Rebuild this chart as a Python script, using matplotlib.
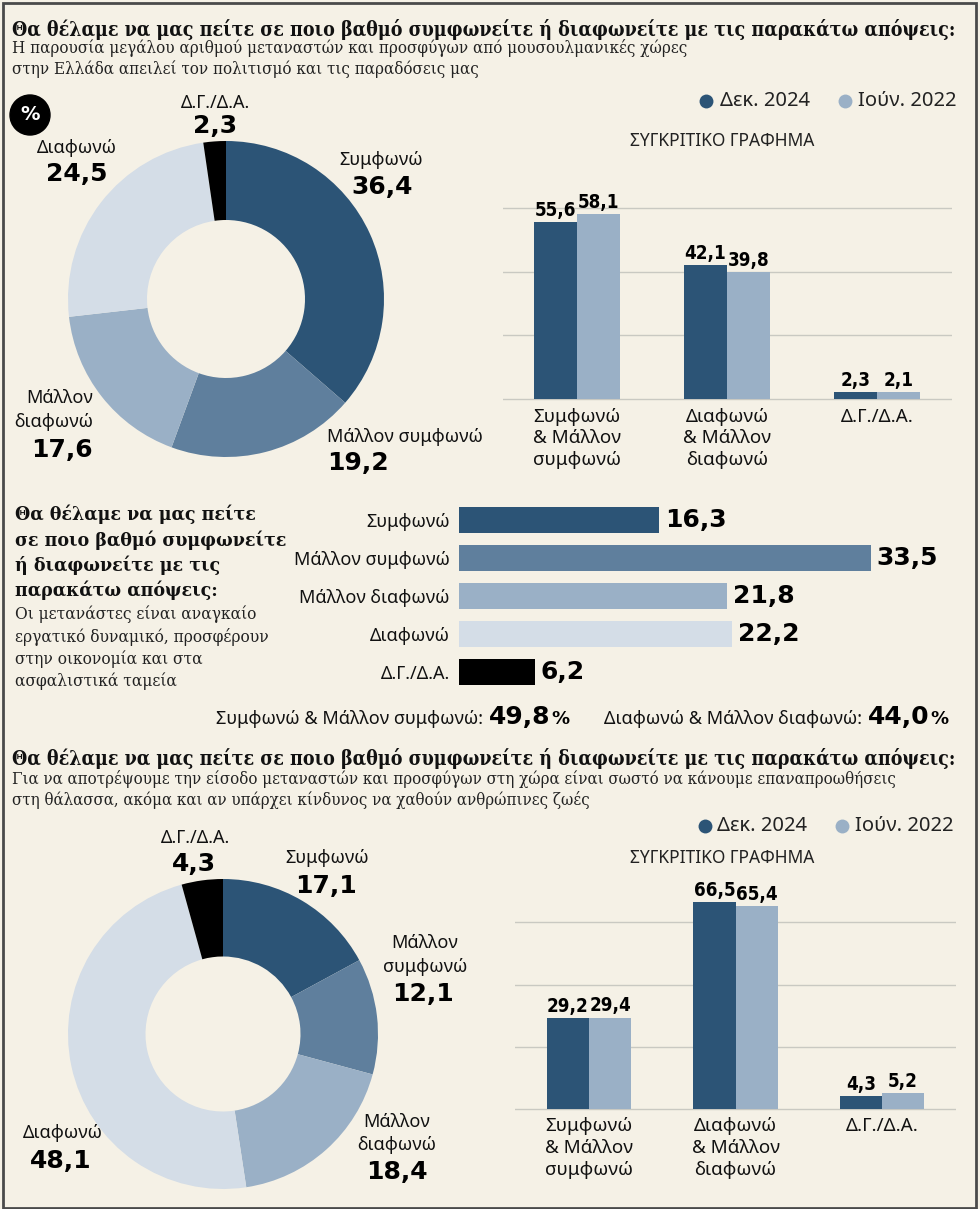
import matplotlib
matplotlib.use('Agg')
import matplotlib.pyplot as plt
from matplotlib.patches import Rectangle, Circle
import numpy as np

# ---------------- data ----------------
answer_labels = ['Συμφωνώ', 'Μάλλον συμφωνώ', 'Μάλλον διαφωνώ', 'Διαφωνώ', 'Δ.Γ./Δ.Α.']
pie1_values = [36.4, 19.2, 17.6, 24.5, 2.3]
cmp_categories = ['Συμφωνώ\n& Μάλλον\nσυμφωνώ', 'Διαφωνώ\n& Μάλλον\nδιαφωνώ', 'Δ.Γ./Δ.Α.']
series_names = ['Δεκ. 2024', 'Ιούν. 2022']
cmp1_dec2024 = [55.6, 42.1, 2.3]
cmp1_jun2022 = [58.1, 39.8, 2.1]
hbar_values = [16.3, 33.5, 21.8, 22.2, 6.2]
hbar_totals_labels = ['Συμφωνώ & Μάλλον συμφωνώ:', 'Διαφωνώ & Μάλλον διαφωνώ:']
hbar_totals = [49.8, 44.0]
pie2_values = [17.1, 12.1, 18.4, 48.1, 4.3]
cmp2_dec2024 = [29.2, 66.5, 4.3]
cmp2_jun2022 = [29.4, 65.4, 5.2]

title_q = 'Θα θέλαμε να μας πείτε σε ποιο βαθμό συμφωνείτε ή διαφωνείτε με τις παρακάτω απόψεις:'
sub1 = ['Η παρουσία μεγάλου αριθμού μεταναστών και προσφύγων από μουσουλμανικές χώρες',
        'στην Ελλάδα απειλεί τον πολιτισμό και τις παραδόσεις μας']
mid_title = ['Θα θέλαμε να μας πείτε', 'σε ποιο βαθμό συμφωνείτε', 'ή διαφωνείτε με τις', 'παρακάτω απόψεις:']
mid_sub = ['Οι μετανάστες είναι αναγκαίο', 'εργατικό δυναμικό, προσφέρουν',
           'στην οικονομία και στα', 'ασφαλιστικά ταμεία']
sub3 = ['Για να αποτρέψουμε την είσοδο μεταναστών και προσφύγων στη χώρα είναι σωστό να κάνουμε επαναπροωθήσεις',
        'στη θάλασσα, ακόμα και αν υπάρχει κίνδυνος να χαθούν ανθρώπινες ζωές']
cmp_title = 'ΣΥΓΚΡΙΤΙΚΟ ΓΡΑΦΗΜΑ'

# ---------------- style ----------------
BG = '#F5F1E6'
DARK = '#2C5476'
MED = '#5F7F9D'
LIGHT = '#9AB0C6'
VLIGHT = '#D4DDE7'
BLACK = '#000000'
GRID = '#C9C9C2'
SLICE_COLORS = [DARK, MED, LIGHT, VLIGHT, BLACK]
SANS = ['Noto Sans', 'DejaVu Sans']
SERIF = ['DejaVu Serif', 'DejaVu Sans']
NUM = ['DejaVu Sans']
plt.rcParams['font.family'] = SANS

W, H = 980, 1215
fig = plt.figure(figsize=(W / 100, H / 100), dpi=100, facecolor=BG)
renderer = fig.canvas.get_renderer()


def px_axes(x0, y0, x1, y1):
    ax = fig.add_axes([x0 / W, 1 - y1 / H, (x1 - x0) / W, (y1 - y0) / H])
    ax.patch.set_visible(False)
    return ax


ov = fig.add_axes([0, 0, 1, 1])
ov.set_xlim(0, W)
ov.set_ylim(H, 0)
ov.axis('off')
ov.patch.set_visible(False)


def fmt(v):
    return f'{v:.1f}'.replace('.', ',')


def txt(x, y, s, size=13, family=SANS, weight='normal', ha='left', va='baseline', color='#111111', **kw):
    return ov.text(x, y, s, fontsize=size, family=family, fontweight=weight, ha=ha, va=va,
                   color=color, **kw)


def fit_block(texts, target):
    widths = [t.get_window_extent(renderer).width for t in texts]
    f = target / max(widths)
    for t in texts:
        t.set_fontsize(t.get_fontsize() * f)


SERIF_KW = dict(family=SERIF, fontstretch='condensed')

# ---------------- titles ----------------
t = txt(12, 36, title_q, size=12, weight='bold', **SERIF_KW)
fit_block([t], 943)
ts = [txt(12, 53, sub1[0], size=11, color='#222222', **SERIF_KW),
      txt(12, 74, sub1[1], size=11, color='#222222', **SERIF_KW)]
fit_block(ts, 669)

t = txt(12, 765, title_q, size=12, weight='bold', **SERIF_KW)
fit_block([t], 943)
ts = [txt(12, 784, sub3[0], size=11, color='#222222', **SERIF_KW),
      txt(12, 805, sub3[1], size=11, color='#222222', **SERIF_KW)]
fit_block(ts, 875)

ts = [txt(15, y, s, size=14, weight='bold', **SERIF_KW) for s, y in zip(mid_title, [520, 545.5, 571, 596.5])]
fit_block(ts, 272)
ts = [txt(15, y, s, size=11, color='#222222', **SERIF_KW) for s, y in zip(mid_sub, [619, 641.5, 664, 686.5])]
fit_block(ts, 252)

# % badge
ov.add_patch(Circle((30, 115), 20, color=BLACK, zorder=3))
txt(30, 115, '%', size=14, family=NUM, weight='bold', ha='center', va='center', color='white', zorder=4)


# ---------------- donuts ----------------
def donut(cx, cy, R, values):
    Rb = R * 1.02
    ax = px_axes(cx - Rb, cy - Rb, cx + Rb, cy + Rb)
    ax.pie(values, colors=SLICE_COLORS, startangle=90, counterclock=False, radius=1,
           wedgeprops=dict(width=0.5, linewidth=0))
    ax.set_xlim(-1.02, 1.02)
    ax.set_ylim(-1.02, 1.02)
    ax.set_aspect('equal')
    ax.axis('off')


donut(226, 299, 158, pie1_values)
donut(223, 1034, 155, pie2_values)

LBL = dict(size=13, family=SANS, color='#111111')
VAL = dict(size=18, family=NUM, weight='bold', color='#000000')

# top donut labels
txt(215, 103, answer_labels[4], ha='center', va='center', **LBL)
txt(215, 126, fmt(pie1_values[4]), ha='center', va='center', **VAL)
txt(381, 160, answer_labels[0], ha='center', va='center', **LBL)
txt(382, 187, fmt(pie1_values[0]), ha='center', va='center', **VAL)
txt(77, 148, answer_labels[3], ha='center', va='center', **LBL)
txt(77, 174, fmt(pie1_values[3]), ha='center', va='center', **VAL)
txt(93, 398, 'Μάλλον', ha='right', va='center', **LBL)
txt(93, 422, 'διαφωνώ', ha='right', va='center', **LBL)
txt(93, 450, fmt(pie1_values[2]), ha='right', va='center', **VAL)
txt(327, 437, answer_labels[1], ha='left', va='center', **LBL)
txt(327, 463, fmt(pie1_values[1]), ha='left', va='center', **VAL)

# bottom donut labels
txt(195, 838, answer_labels[4], ha='center', va='center', **LBL)
txt(194, 864, fmt(pie2_values[4]), ha='center', va='center', **VAL)
txt(327, 858, answer_labels[0], ha='center', va='center', **LBL)
txt(326, 886, fmt(pie2_values[0]), ha='center', va='center', **VAL)
txt(425, 943, 'Μάλλον', ha='center', va='center', **LBL)
txt(425, 967, 'συμφωνώ', ha='center', va='center', **LBL)
txt(423, 994, fmt(pie2_values[1]), ha='center', va='center', **VAL)
txt(397, 1122, 'Μάλλον', ha='center', va='center', **LBL)
txt(397, 1145, 'διαφωνώ', ha='center', va='center', **LBL)
txt(397, 1172, fmt(pie2_values[2]), ha='center', va='center', **VAL)
txt(63, 1133, answer_labels[3], ha='center', va='center', **LBL)
txt(61, 1161, fmt(pie2_values[3]), ha='center', va='center', **VAL)


# ---------------- comparison bar charts ----------------
def cmp_chart(x0, x1, base_y, ppu, c0, spacing, dec, jun):
    ymin, ymax = -0.5, 72
    ax = px_axes(x0, base_y - ymax * ppu, x1, base_y - ymin * ppu)
    x = np.arange(len(dec))
    w = 0.287
    b1 = ax.bar(x - w / 2, dec, w, color=DARK, zorder=2)
    b2 = ax.bar(x + w / 2, jun, w, color=LIGHT, zorder=2)
    ax.set_xlim((x0 - c0) / spacing, (x1 - c0) / spacing)
    ax.set_ylim(ymin, ymax)
    ax.set_yticks([0, 20, 40, 60])
    ax.yaxis.grid(True, color=GRID, lw=1)
    ax.set_axisbelow(True)
    ax.tick_params(axis='y', length=0, labelleft=False)
    ax.set_xticks(x, cmp_categories)
    for lab in ax.get_xticklabels():
        lab.set_fontsize(13.5)
        lab.set_family(SANS)
        lab.set_linespacing(1.28)
        lab.set_color('#111111')
    ax.tick_params(axis='x', length=0, pad=5)
    for sp in ax.spines.values():
        sp.set_visible(False)
    for bars, vals in ((b1, dec), (b2, jun)):
        ax.bar_label(bars, labels=[fmt(v) for v in vals], padding=1.5, fontsize=13.5,
                     fontweight='bold', family=NUM, fontstretch='condensed', color='#000000')
    return ax


cmp_chart(503, 952, 399, 3.18, 577, 150, cmp1_dec2024, cmp1_jun2022)
cmp_chart(515, 956, 1109, 3.11, 589, 146.5, cmp2_dec2024, cmp2_jun2022)

for ly, (d1, t1, d2, t2), ty in ((101, (706, 720, 845, 858), 141), (826, (705, 717, 842, 855), 858)):
    ov.plot([d1], [ly], 'o', ms=10, color=DARK, mec='none')
    ov.plot([d2], [ly], 'o', ms=10, color=LIGHT, mec='none')
    txt(t1, ly, series_names[0], size=14.5, va='center', color='#222222')
    txt(t2, ly, series_names[1], size=14.5, va='center', color='#222222')
    txt(722, ty, cmp_title, size=12.5, ha='center', va='center', color='#222222')

# ---------------- horizontal bars ----------------
ppu_h = 12.3
axh = px_axes(459, 501, 965, 691)
yy = np.arange(len(hbar_values))
hb = axh.barh(yy, hbar_values, height=0.71, color=SLICE_COLORS)
axh.set_ylim(len(hbar_values) - 0.5, -0.5)
axh.set_xlim(0, (965 - 459) / ppu_h)
axh.set_yticks(yy, answer_labels)
for lab in axh.get_yticklabels():
    lab.set_fontsize(13)
    lab.set_family(SANS)
    lab.set_color('#111111')
axh.tick_params(axis='y', length=0, pad=6.5)
axh.set_xticks([])
for sp in axh.spines.values():
    sp.set_visible(False)
axh.bar_label(hb, labels=[fmt(v) for v in hbar_values], padding=4, fontsize=18,
              fontweight='bold', family=NUM, color='#000000')

# totals line
for x0, lab, val in ((216, hbar_totals_labels[0], hbar_totals[0]), (604, hbar_totals_labels[1], hbar_totals[1])):
    t1 = txt(x0, 724, lab, size=13, color='#111111')
    x = x0 + t1.get_window_extent(renderer).width + 6
    t2 = txt(x, 724, fmt(val), size=18, family=NUM, weight='bold', color='#000000')
    x += t2.get_window_extent(renderer).width + 1
    txt(x, 724, '%', size=13, family=NUM, weight='bold', color='#000000')

# frame
ov.add_patch(Rectangle((3, 3), 973, 1205, fill=False, ec='#4A4A4A', lw=2, zorder=10))
ov.add_patch(Rectangle((0, 1209), 980, 8, fc='white', ec='none', zorder=10))

fig.savefig('out.png', dpi=100, facecolor=BG)
